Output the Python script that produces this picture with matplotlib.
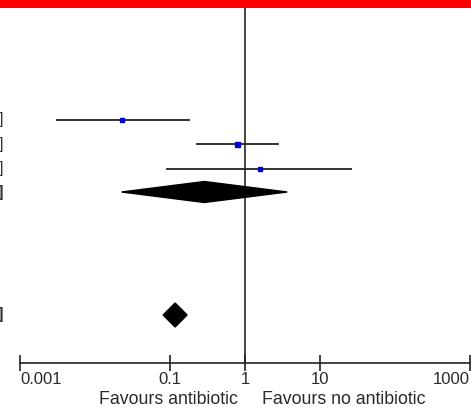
import matplotlib
matplotlib.use('Agg')
import matplotlib.pyplot as plt
from matplotlib.patches import Rectangle, Polygon

plt.rcParams['font.family'] = ['Liberation Sans', 'DejaVu Sans']

# Study estimates (odds ratios)
study_est = [0.023, 0.79, 1.57]
study_lo = [0.0031, 0.23, 0.09]
study_hi = [0.18, 2.72, 25.9]
study_size = [2.2, 3.6, 2.2]

# Pooled results (diamonds)
pooled_est = [0.287, 0.117]
pooled_lo = [0.0226, 0.081]
pooled_hi = [3.66, 0.169]

tick_values = [0.001, 0.1, 1, 10, 1000]
tick_labels = ['0.001', '0.1', '1', '10', '1000']
left_label = 'Favours antibiotic'
right_label = 'Favours no antibiotic'

W, H = 471, 408
fig = plt.figure(figsize=(W / 100, H / 100), dpi=100)

# layout in pixels
axis_y = 363
top_y = 8
study_rows = [119.5, 144, 168.5]
pooled_rows = [192, 315]
pooled_half = [10.5, 12]

ax = fig.add_axes([0, (H - axis_y) / H, 1, (axis_y - top_y) / H])
ax.set_xscale('log')
# 1 decade = 75 px, x=1 at 245 px
ax.set_xlim(10 ** (-245 / 75), 10 ** ((W - 245) / 75))
ax.set_ylim(axis_y, top_y)
ax.patch.set_alpha(0)
for s in ['top', 'left', 'right']:
    ax.spines[s].set_visible(False)
ax.spines['bottom'].set_color('#222222')
ax.spines['bottom'].set_linewidth(1.2)
ax.spines['bottom'].set_bounds(tick_values[0], tick_values[-1])
ax.set_yticks([])
ax.set_xticks(tick_values)
ax.xaxis.set_minor_locator(matplotlib.ticker.NullLocator())
ax.set_xticklabels(tick_labels, fontsize=12, color='#2a2a2a')
ax.tick_params(axis='x', direction='inout', length=11, width=1.2, color='#222222', pad=1)
labels = ax.get_xticklabels()
labels[0].set_ha('left')
labels[-1].set_ha('right')

ax.axvline(1, color='#444444', lw=1.4, zorder=1)

for y, e, lo, hi, ms in zip(study_rows, study_est, study_lo, study_hi, study_size):
    ax.plot([lo, hi], [y, y], color='#222222', lw=1.3, zorder=2)
    ax.plot([e], [y], marker='s', ms=ms, color='#0000cc', mec='#0000cc', zorder=3)

for y, e, lo, hi, h in zip(pooled_rows, pooled_est, pooled_lo, pooled_hi, pooled_half):
    ax.add_patch(Polygon([[lo, y], [e, y - h], [hi, y], [e, y + h]],
                         closed=True, color='black', zorder=3))

# red bar at top
fig.add_artist(Rectangle((0, 1 - top_y / H), 1, top_y / H, transform=fig.transFigure,
                         color='#ff0000', lw=0))

# cut-off brackets of the text columns on the left
for i, y in enumerate(study_rows + pooled_rows):
    fig.text(3.5 / W, 1 - y / H, ']', ha='right', va='center', fontsize=12,
             color='#333333', fontweight='bold' if i >= 3 else 'normal')

fig.text(238 / W, 1 - 399 / H, left_label, ha='right', va='center', fontsize=12.8, color='#2a2a2a')
fig.text(262 / W, 1 - 399 / H, right_label, ha='left', va='center', fontsize=12.8, color='#2a2a2a')

fig.savefig('out.png', dpi=100)
